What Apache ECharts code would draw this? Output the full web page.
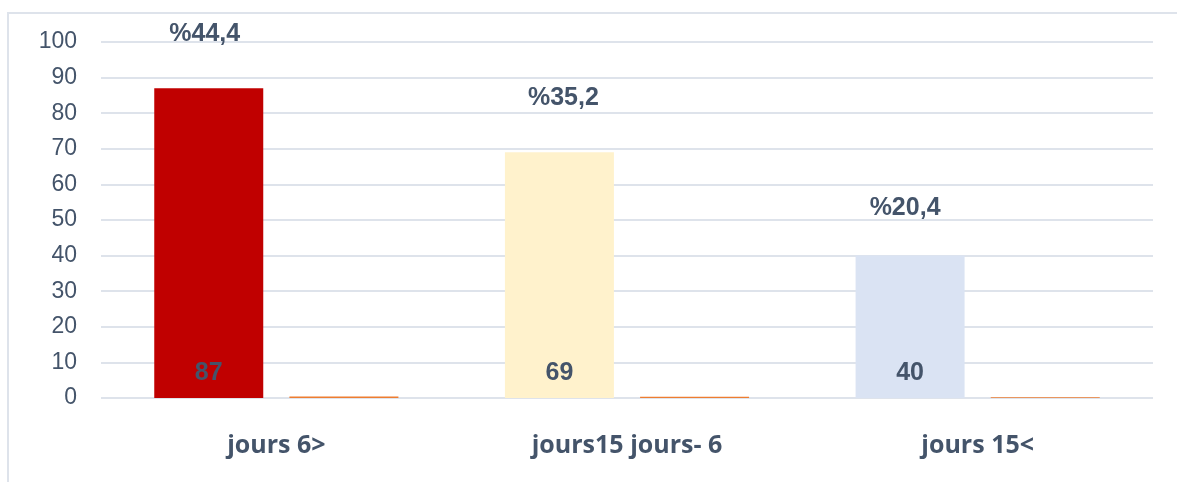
<!DOCTYPE html>
<html>
<head>
<meta charset="utf-8">
<script src="https://cdn.jsdelivr.net/npm/echarts@6/dist/echarts.min.js"></script>
<style>
  html, body { margin: 0; padding: 0; background: #fff; }
  #chart { width: 1177px; height: 482px; }
</style>
</head>
<body>
<div id="chart"></div>
<script>
var categories = ['jours 6>', 'jours15 jours- 6', 'jours 15<'];
var counts = [87, 69, 40];
var shares = [0.444, 0.352, 0.204];
var shareLabels = ['%44,4', '%35,2', '%20,4'];
var yTicks = [0, 10, 20, 30, 40, 50, 60, 70, 80, 90, 100];

var barColors = ['#C00000', '#FFF2CC', '#DAE3F3'];
var textColor = '#44546A';
var lineColor = '#DEE3EB';
// small nudges so the percent labels sit where they do in the original
var pctGap = [42, 42, 35];
var pctShift = [-4, 4, -5];

var chart = echarts.init(document.getElementById('chart'));

var option = {
    animation: false,
    backgroundColor: '#fff',
    graphic: [{
        type: 'polyline',
        silent: true,
        shape: { points: [[8, 482], [8, 13], [1177, 13]] },
        style: { stroke: lineColor, lineWidth: 2, fill: null }
    }],
    grid: { left: 101, right: 24, top: 42, bottom: 84 },
    xAxis: {
        type: 'category',
        data: categories,
        axisLine: { show: false },
        axisTick: { show: false },
        axisLabel: {
            margin: 35,
            color: textColor,
            fontFamily: 'Open Sans',
            fontWeight: 'bold',
            fontSize: 25
        }
    },
    yAxis: {
        type: 'value',
        min: yTicks[0],
        max: yTicks[yTicks.length - 1],
        interval: 10,
        axisLine: { show: false },
        axisTick: { show: false },
        splitLine: { lineStyle: { color: lineColor, width: 2 } },
        axisLabel: {
            margin: 24,
            color: textColor,
            fontFamily: 'Liberation Sans',
            fontSize: 23
        }
    },
    series: [{
        type: 'bar',
        stack: 'main',
        barWidth: 109,
        barGap: '24%',
        data: counts.map(function (v, i) {
            return { value: v, itemStyle: { color: barColors[i] } };
        }),
        label: {
            show: true,
            position: 'insideBottom',
            distance: 12,
            color: textColor,
            fontFamily: 'Liberation Sans',
            fontWeight: 'bold',
            fontSize: 25
        }
    }, {
        type: 'bar',
        barWidth: 109,
        barGap: '24%',
        itemStyle: { color: '#ED7D31' },
        data: shares
    }, {
        type: 'bar',
        stack: 'main',
        barWidth: 109,
        data: shareLabels.map(function (t, i) {
            return {
                value: 0,
                label: { distance: pctGap[i], offset: [pctShift[i], 0] }
            };
        }),
        label: {
            show: true,
            position: 'top',
            color: textColor,
            fontFamily: 'Liberation Sans',
            fontWeight: 'bold',
            fontSize: 25,
            formatter: function (p) { return shareLabels[p.dataIndex]; }
        }
    }]
};

chart.setOption(option);
</script>
</body>
</html>
